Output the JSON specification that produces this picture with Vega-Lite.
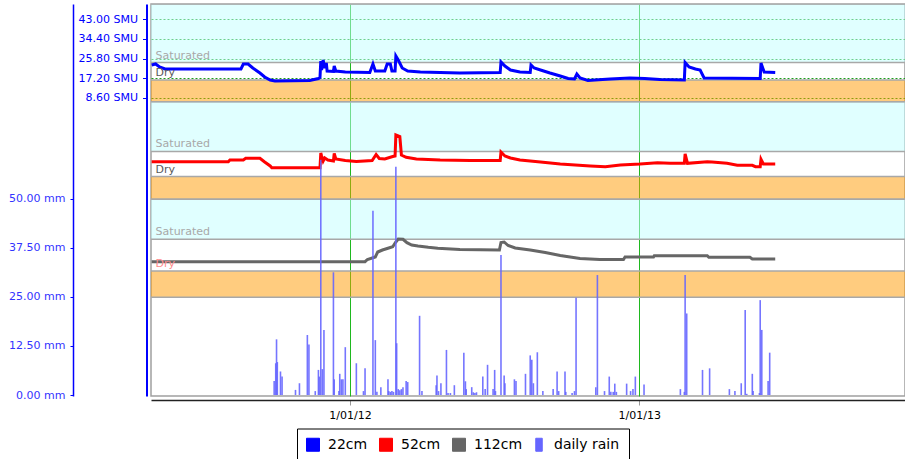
{
  "$schema": "https://vega.github.io/schema/vega-lite/v6.json",
  "width": 754,
  "height": 392,
  "autosize": {"type": "none"},
  "padding": {"left": 151, "top": 4, "right": 0, "bottom": 63},
  "background": "white",
  "config": {
    "view": {"stroke": "#a0a0a0", "strokeWidth": 1.5},
    "font": "DejaVu Sans",
    "axis": {"labelFont": "DejaVu Sans", "title": null},
    "legend": {"labelFont": "DejaVu Sans"},
    "text": {"font": "DejaVu Sans"}
  },
  "datasets": {
    "bands1": [
      {"start": "2011-01-01", "end": "2014-06-01", "lo": 24.06, "hi": 49.6, "zone": "saturated"},
      {"start": "2011-01-01", "end": "2014-06-01", "lo": 6.94, "hi": 16.42, "zone": "dry"}
    ],
    "bands2": [
      {"start": "2011-01-01", "end": "2014-06-01", "lo": 27.99, "hi": 49.74, "zone": "saturated"},
      {"start": "2011-01-01", "end": "2014-06-01", "lo": 7.12, "hi": 17.07, "zone": "dry"}
    ],
    "bands3": [
      {"start": "2011-01-01", "end": "2014-06-01", "lo": 32.45, "hi": 49.91, "zone": "saturated"},
      {"start": "2011-01-01", "end": "2014-06-01", "lo": 7.12, "hi": 18.6, "zone": "dry"}
    ],
    "labels1": [
      {"date": "2011-04-30", "v": 24.06, "label": "Saturated"},
      {"date": "2011-04-30", "v": 16.42, "label": "Dry"}
    ],
    "labels2": [
      {"date": "2011-04-30", "v": 27.99, "label": "Saturated"},
      {"date": "2011-04-30", "v": 17.07, "label": "Dry"}
    ],
    "labels3": [
      {"date": "2011-04-30", "v": 32.45, "label": "Saturated"},
      {"date": "2011-04-30", "v": 18.6, "label": "Dry"}
    ],
    "s22": [
      {"date": "2011-04-25", "smu": 22.97}, {"date": "2011-04-30", "smu": 23.41}, {"date": "2011-05-05", "smu": 22.10},
      {"date": "2011-05-12", "smu": 21.22}, {"date": "2011-08-16", "smu": 21.22}, {"date": "2011-08-19", "smu": 23.41},
      {"date": "2011-08-25", "smu": 23.41}, {"date": "2011-08-31", "smu": 21.66}, {"date": "2011-09-09", "smu": 19.48},
      {"date": "2011-09-15", "smu": 17.73}, {"date": "2011-09-22", "smu": 16.42}, {"date": "2011-09-28", "smu": 15.98},
      {"date": "2011-11-11", "smu": 16.20}, {"date": "2011-11-22", "smu": 17.07}, {"date": "2011-11-24", "smu": 17.51},
      {"date": "2011-11-25", "smu": 24.72}, {"date": "2011-11-26", "smu": 20.79}, {"date": "2011-11-28", "smu": 25.15},
      {"date": "2011-11-30", "smu": 21.66}, {"date": "2011-12-02", "smu": 23.84}, {"date": "2011-12-03", "smu": 20.35},
      {"date": "2011-12-11", "smu": 20.13}, {"date": "2011-12-12", "smu": 22.53}, {"date": "2011-12-14", "smu": 20.35},
      {"date": "2011-12-26", "smu": 19.91}, {"date": "2012-01-26", "smu": 19.69}, {"date": "2012-01-30", "smu": 23.41},
      {"date": "2012-02-02", "smu": 20.35}, {"date": "2012-02-14", "smu": 20.35}, {"date": "2012-02-17", "smu": 23.41},
      {"date": "2012-02-21", "smu": 23.41}, {"date": "2012-02-23", "smu": 20.35}, {"date": "2012-02-27", "smu": 20.35},
      {"date": "2012-02-28", "smu": 26.90}, {"date": "2012-03-02", "smu": 25.15}, {"date": "2012-03-07", "smu": 21.66},
      {"date": "2012-03-14", "smu": 20.35}, {"date": "2012-03-30", "smu": 19.91}, {"date": "2012-04-24", "smu": 19.69},
      {"date": "2012-05-19", "smu": 19.48}, {"date": "2012-07-09", "smu": 19.69}, {"date": "2012-07-10", "smu": 24.28},
      {"date": "2012-07-15", "smu": 22.53}, {"date": "2012-07-22", "smu": 20.79}, {"date": "2012-08-03", "smu": 19.91},
      {"date": "2012-08-16", "smu": 19.69}, {"date": "2012-08-17", "smu": 22.97}, {"date": "2012-08-21", "smu": 21.66},
      {"date": "2012-08-29", "smu": 20.79}, {"date": "2012-09-10", "smu": 19.48}, {"date": "2012-09-23", "smu": 18.17},
      {"date": "2012-10-03", "smu": 17.07}, {"date": "2012-10-11", "smu": 16.86}, {"date": "2012-10-14", "smu": 19.04},
      {"date": "2012-10-18", "smu": 17.29}, {"date": "2012-10-28", "smu": 16.20}, {"date": "2012-11-06", "smu": 16.42},
      {"date": "2012-11-25", "smu": 16.86}, {"date": "2012-12-20", "smu": 17.29}, {"date": "2013-01-08", "smu": 17.07},
      {"date": "2013-01-27", "smu": 16.64}, {"date": "2013-02-27", "smu": 16.42}, {"date": "2013-02-28", "smu": 24.06},
      {"date": "2013-03-05", "smu": 22.10}, {"date": "2013-03-13", "smu": 21.22}, {"date": "2013-03-19", "smu": 20.79},
      {"date": "2013-03-24", "smu": 17.29}, {"date": "2013-06-03", "smu": 17.07}, {"date": "2013-06-04", "smu": 23.84},
      {"date": "2013-06-08", "smu": 19.91}, {"date": "2013-06-22", "smu": 19.69}
    ],
    "s52": [
      {"date": "2011-04-25", "smu": 23.54}, {"date": "2011-07-31", "smu": 23.54}, {"date": "2011-08-02", "smu": 24.28},
      {"date": "2011-08-19", "smu": 24.28}, {"date": "2011-08-22", "smu": 25.02}, {"date": "2011-09-09", "smu": 25.02},
      {"date": "2011-09-15", "smu": 23.41}, {"date": "2011-09-22", "smu": 21.66}, {"date": "2011-09-24", "smu": 20.92},
      {"date": "2011-11-24", "smu": 20.92}, {"date": "2011-11-25", "smu": 27.34}, {"date": "2011-11-26", "smu": 26.03},
      {"date": "2011-11-28", "smu": 23.84}, {"date": "2011-11-30", "smu": 25.15}, {"date": "2011-12-04", "smu": 24.28},
      {"date": "2011-12-11", "smu": 23.84}, {"date": "2011-12-12", "smu": 27.12}, {"date": "2011-12-14", "smu": 24.72},
      {"date": "2011-12-26", "smu": 24.06}, {"date": "2012-01-09", "smu": 23.62}, {"date": "2012-01-29", "smu": 24.06},
      {"date": "2012-02-03", "smu": 26.68}, {"date": "2012-02-07", "smu": 24.93}, {"date": "2012-02-14", "smu": 24.72},
      {"date": "2012-02-24", "smu": 25.81}, {"date": "2012-02-27", "smu": 26.03}, {"date": "2012-02-28", "smu": 35.20},
      {"date": "2012-03-04", "smu": 34.54}, {"date": "2012-03-06", "smu": 26.46}, {"date": "2012-03-12", "smu": 25.46},
      {"date": "2012-03-25", "smu": 24.72}, {"date": "2012-04-24", "smu": 24.28}, {"date": "2012-06-01", "smu": 24.06},
      {"date": "2012-07-09", "smu": 24.06}, {"date": "2012-07-10", "smu": 27.77}, {"date": "2012-07-15", "smu": 26.03},
      {"date": "2012-07-22", "smu": 25.15}, {"date": "2012-08-03", "smu": 24.28}, {"date": "2012-08-29", "smu": 23.41},
      {"date": "2012-09-23", "smu": 22.53}, {"date": "2012-10-12", "smu": 22.10}, {"date": "2012-10-31", "smu": 21.66},
      {"date": "2012-11-19", "smu": 21.35}, {"date": "2012-12-08", "smu": 22.10}, {"date": "2013-01-02", "smu": 22.53},
      {"date": "2013-01-24", "smu": 23.10}, {"date": "2013-02-09", "smu": 22.84}, {"date": "2013-02-27", "smu": 22.84},
      {"date": "2013-02-28", "smu": 26.90}, {"date": "2013-03-03", "smu": 22.84}, {"date": "2013-03-28", "smu": 23.54},
      {"date": "2013-04-03", "smu": 23.41}, {"date": "2013-04-22", "smu": 22.84}, {"date": "2013-05-05", "smu": 21.97},
      {"date": "2013-05-24", "smu": 21.97}, {"date": "2013-05-28", "smu": 21.35}, {"date": "2013-06-03", "smu": 21.35},
      {"date": "2013-06-04", "smu": 24.59}, {"date": "2013-06-07", "smu": 22.53}, {"date": "2013-06-22", "smu": 22.53}
    ],
    "s112": [
      {"date": "2011-04-25", "smu": 22.66}, {"date": "2012-01-20", "smu": 22.66}, {"date": "2012-01-23", "smu": 23.62},
      {"date": "2012-02-02", "smu": 24.72}, {"date": "2012-02-05", "smu": 26.90}, {"date": "2012-02-11", "smu": 27.77},
      {"date": "2012-02-18", "smu": 28.52}, {"date": "2012-02-24", "smu": 29.21}, {"date": "2012-02-28", "smu": 31.27},
      {"date": "2012-03-02", "smu": 32.58}, {"date": "2012-03-08", "smu": 32.45}, {"date": "2012-03-13", "smu": 30.96},
      {"date": "2012-03-19", "smu": 29.96}, {"date": "2012-03-27", "smu": 29.52}, {"date": "2012-04-09", "smu": 28.95},
      {"date": "2012-04-21", "smu": 28.52}, {"date": "2012-05-19", "smu": 27.99}, {"date": "2012-07-08", "smu": 27.77},
      {"date": "2012-07-10", "smu": 31.05}, {"date": "2012-07-14", "smu": 31.27}, {"date": "2012-07-19", "smu": 29.74},
      {"date": "2012-07-28", "smu": 28.65}, {"date": "2012-08-16", "smu": 27.77}, {"date": "2012-09-04", "smu": 26.68},
      {"date": "2012-09-23", "smu": 25.37}, {"date": "2012-10-18", "smu": 24.06}, {"date": "2012-11-12", "smu": 23.62},
      {"date": "2012-12-12", "smu": 23.62}, {"date": "2012-12-14", "smu": 24.72}, {"date": "2013-01-19", "smu": 24.72},
      {"date": "2013-01-20", "smu": 25.28}, {"date": "2013-03-28", "smu": 25.28}, {"date": "2013-03-30", "smu": 24.59},
      {"date": "2013-05-21", "smu": 24.59}, {"date": "2013-05-24", "smu": 23.84}, {"date": "2013-06-22", "smu": 23.84}
    ],
    "rain": [
      {"date": "2011-09-27", "mm": 3.6}, {"date": "2011-09-29", "mm": 8.1}, {"date": "2011-09-30", "mm": 14.2},
      {"date": "2011-10-01", "mm": 8.4}, {"date": "2011-10-05", "mm": 6.0}, {"date": "2011-10-07", "mm": 4.7},
      {"date": "2011-10-24", "mm": 1.3}, {"date": "2011-10-29", "mm": 3.0}, {"date": "2011-11-08", "mm": 15.3},
      {"date": "2011-11-10", "mm": 12.9}, {"date": "2011-11-18", "mm": 1.0}, {"date": "2011-11-22", "mm": 6.4},
      {"date": "2011-11-23", "mm": 4.7}, {"date": "2011-11-25", "mm": 60.0}, {"date": "2011-11-27", "mm": 6.6},
      {"date": "2011-11-29", "mm": 16.6}, {"date": "2011-12-11", "mm": 31.3}, {"date": "2011-12-12", "mm": 4.0},
      {"date": "2011-12-18", "mm": 1.0}, {"date": "2011-12-19", "mm": 5.4}, {"date": "2011-12-21", "mm": 4.0},
      {"date": "2011-12-23", "mm": 4.0}, {"date": "2011-12-26", "mm": 12.2}, {"date": "2012-01-09", "mm": 8.1},
      {"date": "2012-01-18", "mm": 1.0}, {"date": "2012-01-20", "mm": 6.8}, {"date": "2012-01-30", "mm": 47.0},
      {"date": "2012-02-02", "mm": 14.0}, {"date": "2012-02-04", "mm": 0.8}, {"date": "2012-02-09", "mm": 2.0},
      {"date": "2012-02-18", "mm": 4.0}, {"date": "2012-02-19", "mm": 1.0}, {"date": "2012-02-21", "mm": 0.8},
      {"date": "2012-02-23", "mm": 1.0}, {"date": "2012-02-25", "mm": 0.8}, {"date": "2012-02-28", "mm": 58.2},
      {"date": "2012-02-29", "mm": 13.2}, {"date": "2012-03-02", "mm": 1.5}, {"date": "2012-03-04", "mm": 1.2},
      {"date": "2012-03-06", "mm": 1.5}, {"date": "2012-03-08", "mm": 2.0}, {"date": "2012-03-12", "mm": 3.6},
      {"date": "2012-03-14", "mm": 3.3}, {"date": "2012-03-29", "mm": 20.2}, {"date": "2012-04-01", "mm": 1.0},
      {"date": "2012-04-19", "mm": 2.5}, {"date": "2012-04-20", "mm": 5.0}, {"date": "2012-04-22", "mm": 1.0},
      {"date": "2012-04-25", "mm": 3.0}, {"date": "2012-05-02", "mm": 11.5}, {"date": "2012-05-04", "mm": 0.5},
      {"date": "2012-05-07", "mm": 0.5}, {"date": "2012-05-12", "mm": 2.5}, {"date": "2012-05-24", "mm": 10.8},
      {"date": "2012-05-26", "mm": 3.5}, {"date": "2012-05-27", "mm": 1.5}, {"date": "2012-06-03", "mm": 2.0},
      {"date": "2012-06-05", "mm": 0.7}, {"date": "2012-06-07", "mm": 0.5}, {"date": "2012-06-09", "mm": 0.7},
      {"date": "2012-06-17", "mm": 4.7}, {"date": "2012-06-20", "mm": 1.5}, {"date": "2012-06-23", "mm": 7.7},
      {"date": "2012-06-30", "mm": 1.5}, {"date": "2012-07-02", "mm": 6.4}, {"date": "2012-07-03", "mm": 1.0},
      {"date": "2012-07-10", "mm": 35.7}, {"date": "2012-07-14", "mm": 5.0}, {"date": "2012-07-15", "mm": 3.0},
      {"date": "2012-07-27", "mm": 4.0}, {"date": "2012-07-29", "mm": 3.6}, {"date": "2012-08-10", "mm": 5.4},
      {"date": "2012-08-16", "mm": 10.1}, {"date": "2012-08-18", "mm": 9.0}, {"date": "2012-08-20", "mm": 3.0},
      {"date": "2012-08-25", "mm": 10.9}, {"date": "2012-09-01", "mm": 1.0}, {"date": "2012-09-14", "mm": 1.5},
      {"date": "2012-09-19", "mm": 6.0}, {"date": "2012-09-21", "mm": 1.0}, {"date": "2012-09-29", "mm": 6.0},
      {"date": "2012-09-30", "mm": 0.8}, {"date": "2012-10-08", "mm": 0.5}, {"date": "2012-10-11", "mm": 1.0},
      {"date": "2012-10-13", "mm": 24.8}, {"date": "2012-11-07", "mm": 2.0}, {"date": "2012-11-09", "mm": 30.6},
      {"date": "2012-11-18", "mm": 1.0}, {"date": "2012-11-24", "mm": 4.7}, {"date": "2012-11-26", "mm": 0.8},
      {"date": "2012-11-29", "mm": 0.8}, {"date": "2012-12-01", "mm": 2.9}, {"date": "2012-12-03", "mm": 0.8},
      {"date": "2012-12-16", "mm": 2.9}, {"date": "2012-12-21", "mm": 1.0}, {"date": "2012-12-24", "mm": 1.5},
      {"date": "2012-12-27", "mm": 4.7}, {"date": "2013-01-07", "mm": 2.7}, {"date": "2013-02-22", "mm": 1.5},
      {"date": "2013-02-27", "mm": 0.8}, {"date": "2013-02-28", "mm": 30.6}, {"date": "2013-03-02", "mm": 20.8},
      {"date": "2013-03-22", "mm": 6.4}, {"date": "2013-03-31", "mm": 6.8}, {"date": "2013-04-25", "mm": 1.5},
      {"date": "2013-05-02", "mm": 1.0}, {"date": "2013-05-10", "mm": 3.0}, {"date": "2013-05-15", "mm": 21.7},
      {"date": "2013-05-17", "mm": 0.3}, {"date": "2013-05-24", "mm": 5.4}, {"date": "2013-05-25", "mm": 1.0},
      {"date": "2013-06-02", "mm": 0.5}, {"date": "2013-06-03", "mm": 24.2}, {"date": "2013-06-05", "mm": 16.6},
      {"date": "2013-06-13", "mm": 3.6}, {"date": "2013-06-15", "mm": 10.8}
    ]
  },
  "resolve": {"scale": {"y": "independent"}},
  "layer": [
    {
      "layer": [
        {
          "data": {"name": "bands1"},
          "mark": {"type": "rect", "clip": true, "fillOpacity": 0.5, "stroke": "#a8a8a8", "strokeWidth": 1.5},
          "encoding": {
            "x": {"field": "start", "type": "temporal",
              "scale": {"type": "utc", "domain": [{"year": 2011, "month": 4, "date": 24, "hours": 4, "utc": true}, {"year": 2013, "month": 12, "date": 3, "hours": 5, "utc": true}]},
              "axis": {"orient": "bottom", "offset": 4, "values": [{"year": 2012, "month": 1, "date": 1, "utc": true}, {"year": 2013, "month": 1, "date": 1, "utc": true}],
                "format": "%-d/%m/%y", "grid": true, "gridColor": "#1fb81f", "gridWidth": 1, "gridOpacity": 1,
                "domainColor": "#222222", "domainWidth": 1.5, "tickColor": "#999999", "tickSize": 5,
                "labelColor": "#000000", "labelFontSize": 11, "labelPadding": 4, "title": null}},
            "x2": {"field": "end"},
            "y": {"field": "lo", "type": "quantitative", "scale": {"domain": [-121.57, 49.61], "nice": false, "zero": false}},
            "y2": {"field": "hi"},
            "fill": {"condition": {"test": "datum.zone === 'saturated'", "value": "#c2ffff"}, "value": "#ff9900"}
          }
        },
        {
          "data": {"name": "s22"},
          "mark": {"type": "line", "strokeWidth": 3},
          "encoding": {
            "x": {"field": "date", "type": "temporal"},
            "y": {"field": "smu", "type": "quantitative", "scale": {"domain": [-121.57, 49.61], "nice": false, "zero": false},
              "axis": {"orient": "left", "offset": 4.5, "values": [8.6, 17.2, 25.8, 34.4, 43],
                "labelExpr": "format(datum.value, '.2f') + ' SMU'", "grid": true, "gridColor": "#1a9e1a", "gridDash": [2, 2], "gridWidth": 1.2,
                "domainColor": "#0000ff", "domainWidth": 2, "tickColor": "#0000ff", "tickSize": 4,
                "labelColor": "#0000ff", "labelFontSize": 11, "labelPadding": 5, "title": null}},
            "color": {"datum": "22cm", "type": "nominal",
              "scale": {"domain": ["22cm", "52cm", "112cm", "daily rain"], "range": ["#0000ff", "#ff0000", "#666666", "#6666ff"]},
              "legend": {"orient": "none", "legendX": 146, "legendY": 424.5, "direction": "horizontal", "title": null,
                "padding": 9, "strokeColor": "#000000", "fillColor": "#ffffff", "cornerRadius": 0,
                "symbolSize": 169, "symbolStrokeWidth": 1, "symbolType": "square",
                "labelFontSize": 14, "labelColor": "#000000", "labelOffset": 8, "columnPadding": 9,
                "encode": {"symbols": {"update": {
                  "fill": {"scale": "color", "field": "value"},
                  "fillOpacity": {"value": 1},
                  "opacity": {"value": 1},
                  "stroke": [{"test": "datum.value === 'daily rain'", "value": "transparent"}, {"value": "#000000"}],
                  "strokeWidth": {"value": 1},
                  "shape": [{"test": "datum.value === 'daily rain'", "value": "M-0.5,-1H0.5V1H-0.5Z"}, {"value": "square"}]
                }}}}}
          }
        },
        {
          "data": {"name": "labels1"},
          "mark": {"type": "text", "align": "left", "baseline": "alphabetic", "dy": -4, "fontSize": 11},
          "encoding": {
            "x": {"field": "date", "type": "temporal"},
            "y": {"field": "v", "type": "quantitative", "scale": {"domain": [-121.57, 49.61], "nice": false, "zero": false}},
            "text": {"field": "label"},
            "fill": {"condition": {"test": "datum.label === 'Saturated'", "value": "#a8a8a8"}, "value": "#5a5a5a"}
          }
        }
      ]
    },
    {
      "layer": [
        {
          "data": {"name": "bands2"},
          "mark": {"type": "rect", "clip": true, "fillOpacity": 0.5, "stroke": "#a8a8a8", "strokeWidth": 1.5},
          "encoding": {
            "x": {"field": "start", "type": "temporal"},
            "x2": {"field": "end"},
            "y": {"field": "lo", "type": "quantitative", "scale": {"domain": [-78.78, 92.4], "nice": false, "zero": false}, "axis": null},
            "y2": {"field": "hi"},
            "fill": {"condition": {"test": "datum.zone === 'saturated'", "value": "#c2ffff"}, "value": "#ff9900"}
          }
        },
        {
          "data": {"name": "s52"},
          "mark": {"type": "line", "strokeWidth": 3},
          "encoding": {
            "x": {"field": "date", "type": "temporal"},
            "y": {"field": "smu", "type": "quantitative", "scale": {"domain": [-78.78, 92.4], "nice": false, "zero": false}, "axis": null},
            "color": {"datum": "52cm", "type": "nominal"}
          }
        },
        {
          "data": {"name": "labels2"},
          "mark": {"type": "text", "align": "left", "baseline": "alphabetic", "dy": -4, "fontSize": 11},
          "encoding": {
            "x": {"field": "date", "type": "temporal"},
            "y": {"field": "v", "type": "quantitative", "scale": {"domain": [-78.78, 92.4], "nice": false, "zero": false}, "axis": null},
            "text": {"field": "label"},
            "fill": {"condition": {"test": "datum.label === 'Saturated'", "value": "#a8a8a8"}, "value": "#5a5a5a"}
          }
        }
      ]
    },
    {
      "layer": [
        {
          "data": {"name": "bands3"},
          "mark": {"type": "rect", "clip": true, "fillOpacity": 0.5, "stroke": "#a8a8a8", "strokeWidth": 1.5},
          "encoding": {
            "x": {"field": "start", "type": "temporal"},
            "x2": {"field": "end"},
            "y": {"field": "lo", "type": "quantitative", "scale": {"domain": [-35.98, 135.2], "nice": false, "zero": false}, "axis": null},
            "y2": {"field": "hi"},
            "fill": {"condition": {"test": "datum.zone === 'saturated'", "value": "#c2ffff"}, "value": "#ff9900"}
          }
        },
        {
          "data": {"name": "s112"},
          "mark": {"type": "line", "strokeWidth": 3},
          "encoding": {
            "x": {"field": "date", "type": "temporal"},
            "y": {"field": "smu", "type": "quantitative", "scale": {"domain": [-35.98, 135.2], "nice": false, "zero": false}, "axis": null},
            "color": {"datum": "112cm", "type": "nominal"}
          }
        },
        {
          "data": {"name": "labels3"},
          "mark": {"type": "text", "align": "left", "baseline": "alphabetic", "dy": -4, "fontSize": 11},
          "encoding": {
            "x": {"field": "date", "type": "temporal"},
            "y": {"field": "v", "type": "quantitative", "scale": {"domain": [-35.98, 135.2], "nice": false, "zero": false}, "axis": null},
            "text": {"field": "label"},
            "fill": {"condition": {"test": "datum.label === 'Saturated'", "value": "#a8a8a8"}, "value": "#ff8c8c"}
          }
        }
      ]
    },
    {
      "data": {"name": "rain"},
      "mark": {"type": "rule", "strokeWidth": 1.6, "opacity": 0.9},
      "encoding": {
        "x": {"field": "date", "type": "temporal"},
        "y": {"field": "mm", "type": "quantitative", "scale": {"domain": [-0.255, 99.74], "nice": false, "zero": false},
          "axis": {"orient": "left", "offset": 78, "values": [0, 12.5, 25, 37.5, 50],
            "labelExpr": "format(datum.value, '.2f') + ' mm'", "grid": false,
            "domainColor": "#0000ff", "domainWidth": 1.5, "tickColor": "#0000ff", "tickSize": 3,
            "labelColor": "#3333ff", "labelFontSize": 11, "labelPadding": 5, "title": null}},
        "y2": {"datum": 0},
        "color": {"datum": "daily rain", "type": "nominal"}
      }
    }
  ]
}
